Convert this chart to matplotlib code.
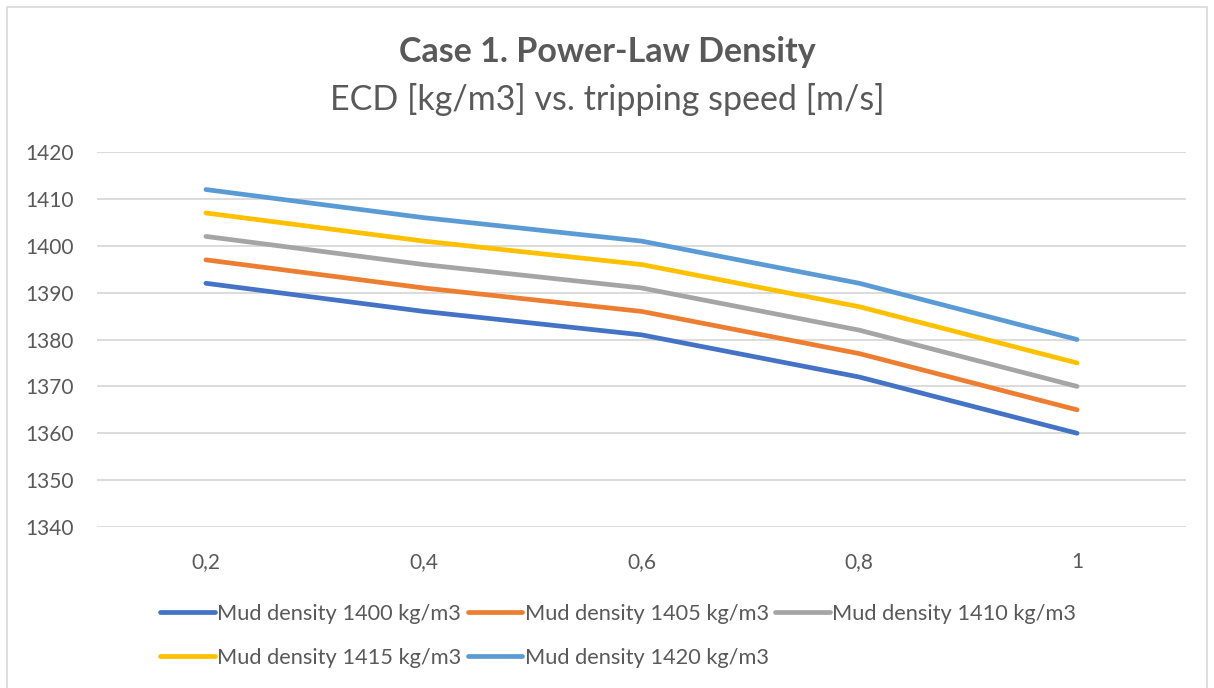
import matplotlib.pyplot as plt
from matplotlib.patches import Rectangle

speeds = ['0,2', '0,4', '0,6', '0,8', '1']
labels = ['Mud density 1400 kg/m3', 'Mud density 1405 kg/m3', 'Mud density 1410 kg/m3',
          'Mud density 1415 kg/m3', 'Mud density 1420 kg/m3']
ecd_1400 = [1392, 1386, 1381, 1372, 1360]
ecd_1405 = [1397, 1391, 1386, 1377, 1365]
ecd_1410 = [1402, 1396, 1391, 1382, 1370]
ecd_1415 = [1407, 1401, 1396, 1387, 1375]
ecd_1420 = [1412, 1406, 1401, 1392, 1380]
colors = ['#4472C4', '#ED7D31', '#A5A5A5', '#FFC000', '#5B9BD5']

txt = '#595959'
plt.rcParams['font.family'] = ['Lato', 'DejaVu Sans']

fig = plt.figure(figsize=(12.14, 6.88), dpi=100)
fig.patches.append(Rectangle((0.006, -0.01), 0.988, 1.0, transform=fig.transFigure,
                             fill=False, edgecolor='#D9D9D9', linewidth=1.2))
ax = fig.add_axes([0.0799, 0.234, 0.897, 0.545])

x = range(len(speeds))
lines = []
for vals, lab, c in zip([ecd_1400, ecd_1405, ecd_1410, ecd_1415, ecd_1420], labels, colors):
    ln, = ax.plot(x, vals, color=c, lw=3.4, label=lab, solid_capstyle='round')
    lines.append(ln)

ax.set_xlim(-0.5, len(speeds) - 0.5)
ax.set_ylim(1340, 1420)
ax.set_yticks(range(1340, 1421, 10))
ax.set_xticks(list(x))
ax.set_xticklabels(speeds)
ax.grid(axis='y', color='#D9D9D9', lw=1.3)
ax.set_axisbelow(True)
for s in ax.spines.values():
    s.set_visible(False)
ax.tick_params(length=0, colors=txt, labelsize=15)
ax.tick_params(axis='y', pad=17)
ax.tick_params(axis='x', pad=18)

fig.text(0.5, 0.925, 'Case 1. Power-Law Density', ha='center', va='center',
         fontsize=24.5, fontweight='bold', color=txt)
fig.text(0.5, 0.856, 'ECD [kg/m3] vs. tripping speed [m/s]', ha='center', va='center',
         fontsize=24.5, color=txt)

order = [0, 3, 1, 4, 2]
leg = fig.legend([lines[i] for i in order], [labels[i] for i in order], ncol=3,
                 loc='upper left', bbox_to_anchor=(0.125, 0.135), frameon=False,
                 fontsize=15.7, handlelength=2.5, handletextpad=0.1, columnspacing=0.3,
                 labelspacing=1.1, borderaxespad=0)
for t in leg.get_texts():
    t.set_color(txt)

fig.savefig('out.png', dpi=100)
